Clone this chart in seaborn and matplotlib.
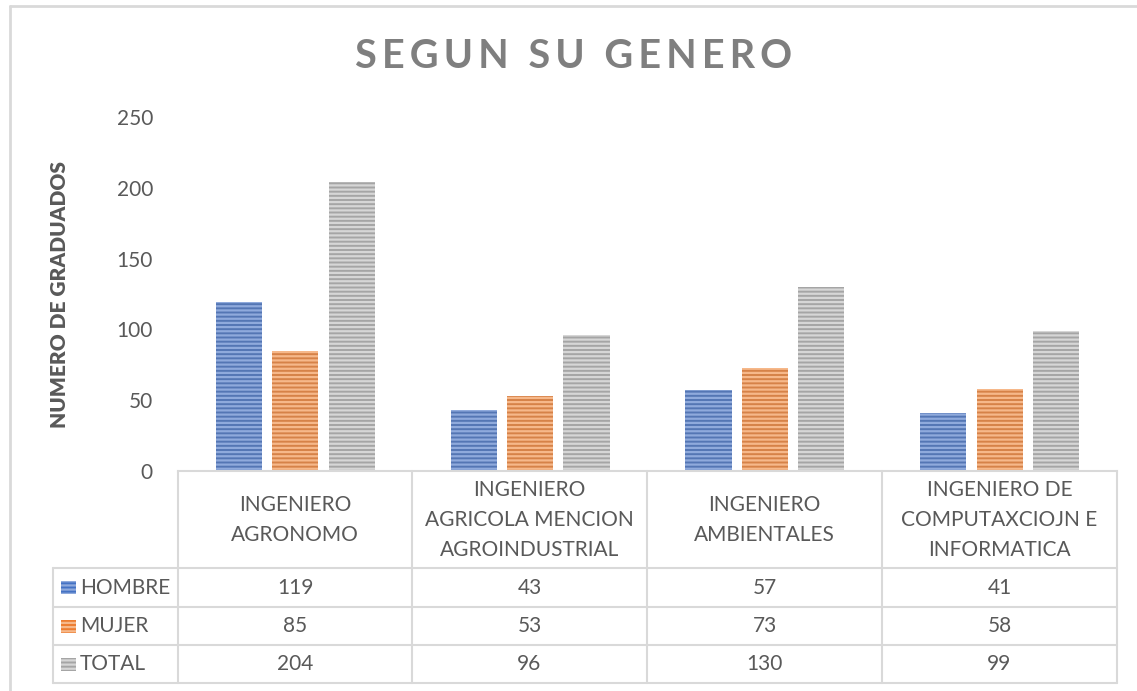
import matplotlib
matplotlib.use("Agg")
import matplotlib.pyplot as plt
import seaborn as sns
import pandas as pd
from matplotlib.patches import Rectangle
from matplotlib.lines import Line2D

# datos del grafico
carreras = [
    "INGENIERO\nAGRONOMO",
    "INGENIERO\nAGRICOLA MENCION\nAGROINDUSTRIAL",
    "INGENIERO\nAMBIENTALES",
    "INGENIERO DE\nCOMPUTAXCIOJN E\nINFORMATICA",
]
series = ["HOMBRE", "MUJER", "TOTAL"]
hombre = [119, 43, 57, 41]
mujer = [85, 53, 73, 58]
total = [204, 96, 130, 99]
y_ticks = [0, 50, 100, 150, 200, 250]

colores = ["#4472C4", "#ED7D31", "#A5A5A5"]
rayas = ["#8FAADC", "#F6B88A", "#D6D6D6"]
gris_txt = "#595959"
gris_lin = "#D9D9D9"

W, H = 1137, 691


def fx(x):
    return x / W


def fy(y):
    return 1 - y / H


sns.set_theme(style="white")
plt.rcParams["font.family"] = ["Lato", "DejaVu Sans"]
plt.rcParams["hatch.linewidth"] = 1.6

fig = plt.figure(figsize=(W / 100, H / 100), dpi=100)
ax = fig.add_axes([fx(178), fy(471), 939 / W, 354 / H])

df = pd.DataFrame({
    "carrera": carreras * 3,
    "serie": [s for s in series for _ in carreras],
    "valor": hombre + mujer + total,
})

sns.barplot(data=df, x="carrera", y="valor", hue="serie", order=carreras,
            hue_order=series, palette=colores, width=0.72, gap=0.18,
            hatch="----", linewidth=0, legend=False, ax=ax)
for cont, c in zip(ax.containers, rayas):
    for bar in cont:
        bar.set_edgecolor(c)
        bar.set_linewidth(0)

ax.set_xlim(-0.5, len(carreras) - 0.5)
ax.set_ylim(0, 250)
ax.set_yticks(y_ticks)
ax.set_xticks([])
ax.set_xlabel("")
ax.set_ylabel("")
ax.tick_params(axis="y", length=0, pad=18, labelsize=15, labelcolor=gris_txt)
for s in ["top", "right", "left"]:
    ax.spines[s].set_visible(False)
ax.spines["bottom"].set_color(gris_lin)
ax.spines["bottom"].set_linewidth(1.5)

# titulo y eje y
fig.text(fx(574), fy(56), "\u2009".join("SEGUN SU GENERO"), ha="center", va="center",
         fontsize=28.5, fontweight="bold", color="#7F7F7F")
fig.text(fx(60), fy(295), "NUMERO DE GRADUADOS", rotation=90, ha="center",
         va="center", fontsize=15, fontweight="heavy", color=gris_txt)

# tabla de datos
col_x = [178, 412, 647, 882, 1117]
row_y = [471, 568, 607, 645, 683]
lw = 1.5
for x in col_x:
    fig.add_artist(Line2D([fx(x), fx(x)], [fy(471), fy(683)], color=gris_lin, lw=lw))
fig.add_artist(Line2D([fx(53), fx(53)], [fy(568), fy(683)], color=gris_lin, lw=lw))
for y in row_y[1:]:
    fig.add_artist(Line2D([fx(53), fx(1117)], [fy(y), fy(y)], color=gris_lin, lw=lw))

for i, nombre in enumerate(carreras):
    cx = (col_x[i] + col_x[i + 1]) / 2
    fig.text(fx(cx), fy(520), nombre, ha="center", va="center", fontsize=15,
             color=gris_txt, linespacing=1.6)

valores = [hombre, mujer, total]
for r, (nombre, vals) in enumerate(zip(series, valores)):
    cy = (row_y[r + 1] + row_y[r + 2]) / 2
    fig.add_artist(Rectangle((fx(61), fy(cy + 6.5)), 15 / W, 13 / H,
                             facecolor=colores[r], edgecolor=rayas[r], lw=0,
                             hatch="----"))
    fig.text(fx(80), fy(cy), nombre, ha="left", va="center", fontsize=15,
             color=gris_txt)
    for i, v in enumerate(vals):
        cx = (col_x[i] + col_x[i + 1]) / 2
        fig.text(fx(cx), fy(cy), str(v), ha="center", va="center", fontsize=15,
                 color=gris_txt)

# borde del area del grafico
fig.add_artist(Line2D([fx(9.5), fx(1137)], [fy(6), fy(6)], color=gris_lin, lw=2))
fig.add_artist(Line2D([fx(9.5), fx(9.5)], [fy(6), fy(691)], color=gris_lin, lw=2))

fig.savefig("out.png", dpi=100)
